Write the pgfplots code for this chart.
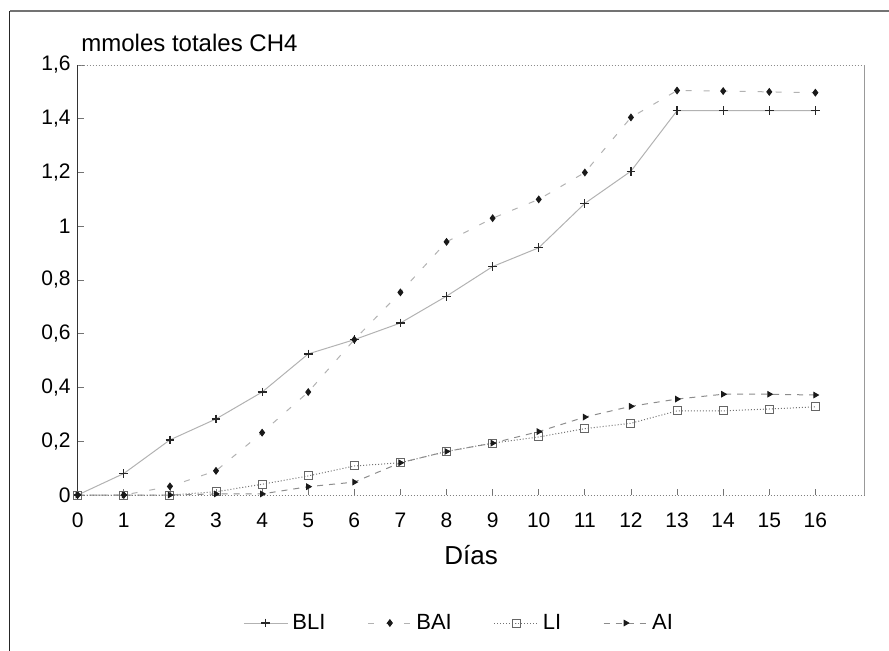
\documentclass[border=0pt]{standalone}
\usepackage{fontspec}
\setmainfont{Liberation Sans}
\usepackage{pgfplots}
\usepackage{pgfplotstable}
\pgfplotsset{compat=1.18}

\pgfplotstableread{
x y
0 0
1 0.08
2 0.205
3 0.283
4 0.383
5 0.525
6 0.578
7 0.64
8 0.74
9 0.85
10 0.92
11 1.085
12 1.205
13 1.43
14 1.43
15 1.43
16 1.43
}\BLI
\pgfplotstableread{
x y
0 0
1 0
2 0.032
3 0.09
4 0.232
5 0.383
6 0.578
7 0.754
8 0.942
9 1.03
10 1.10
11 1.20
12 1.405
13 1.505
14 1.503
15 1.50
16 1.497
}\BAI
\pgfplotstableread{
x y
0 0
1 0
2 0
3 0.012
4 0.04
5 0.071
6 0.108
7 0.12
8 0.162
9 0.193
10 0.216
11 0.247
12 0.267
13 0.313
14 0.313
15 0.32
16 0.328
}\LI
\pgfplotstableread{
x y
0 0
1 0
2 0
3 0.004
4 0.004
5 0.031
6 0.048
7 0.12
8 0.162
9 0.193
10 0.236
11 0.29
12 0.33
13 0.357
14 0.375
15 0.375
16 0.372
}\AI

\begin{document}
\begin{tikzpicture}
\useasboundingbox (-38.85pt,-77.5pt) rectangle (405.65pt,247.5pt);
\draw[black!85, line width=0.5pt] (-33.85pt,-80pt) -- (-33.85pt,242pt);
\draw[black!55, line width=1pt] (-33.85pt,242pt) -- (410pt,242pt);
\begin{axis}[
  at={(0,0)}, anchor=south west,
  scale only axis, width=393.5pt, height=215pt,
  xmin=0, xmax=17.07, ymin=0, ymax=1.6,
  xtick={0,1,...,16},
  ytick={0,0.2,0.4,0.6,0.8,1,1.2,1.4,1.6},
  /pgf/number format/use comma,
  /pgf/number format/assume math mode=true,
  tick label style={font=\fontsize{10.5}{12}\selectfont, black},
  xticklabel style={yshift=-5.5pt},
  tick align=inside, tick pos=left,
  major tick length=3pt,
  tick style={black!55, line width=0.4pt},
  axis line style={draw=none},
  clip=false,
  xlabel={Días},
  xlabel style={font=\fontsize{13}{15}\selectfont, at={(axis description cs:0.5,0)}, anchor=center, yshift=-30pt},
  legend columns=4,
  legend style={draw=none, fill=none, at={(axis description cs:0.486,0)}, anchor=center, yshift=-64pt,
    font=\fontsize{11}{12}\selectfont, inner sep=0pt,
    /tikz/every even column/.append style={column sep=19pt}},
  legend image code/.code={\draw[mark repeat=2,mark phase=2] plot coordinates {(0pt,0pt) (11pt,0pt) (22pt,0pt)};},
]
\draw[black!45, densely dotted, line width=0.5pt] (rel axis cs:0,1) -- (rel axis cs:1,1);
\draw[black!40, line width=0.5pt] (rel axis cs:1,1) -- (rel axis cs:1,0);
\draw[black!50, densely dotted, line width=0.5pt] (rel axis cs:0,0) -- (rel axis cs:1,0);
\draw[black!80, line width=0.5pt] (rel axis cs:0,0) -- (rel axis cs:0,1);
\node[anchor=base west, font=\fontsize{12}{14}\selectfont, inner sep=0pt] at ([xshift=1.65pt,yshift=7pt]rel axis cs:0,1) {mmoles totales CH4};

\addplot[black!30, line width=0.5pt, mark=+, mark size=2.2pt, mark options={black!85, solid, line width=0.6pt}] table {\BLI};
\addlegendentry{BLI}
\addplot[black!30, line width=0.5pt, loosely dashed, mark=diamond*, mark size=1.6pt, mark options={black!90, solid}] table {\BAI};
\addlegendentry{BAI}
\addplot[black!55, line width=0.5pt, densely dotted, mark=square, mark size=2pt, mark options={black!60, solid}] table {\LI};
\addlegendentry{LI}
\addplot[black!45, line width=0.5pt, dashed, mark=triangle*, mark size=1.5pt, mark options={black!90, solid, rotate=-90}] table {\AI};
\addlegendentry{AI}
\end{axis}
\end{tikzpicture}
\end{document}
